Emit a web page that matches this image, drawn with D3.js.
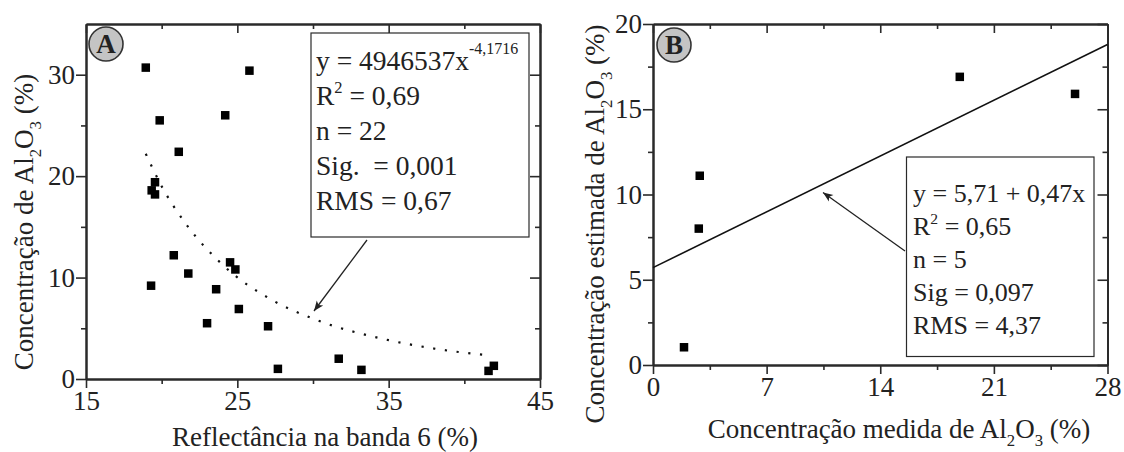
<!DOCTYPE html>
<html><head><meta charset="utf-8">
<script src="https://cdn.jsdelivr.net/npm/d3@7"></script>
<style>
html,body{margin:0;padding:0;background:#fff;}
svg text{font-family:"Liberation Serif","Times New Roman",serif;fill:#222;white-space:pre;}
</style></head>
<body><svg id="c" width="1124" height="452"></svg>
<script>
// ---- Panel A data ----
const aX = [18.95,25.8,19.87,24.2,21.13,19.34,19.56,19.56,20.8,21.76,19.3,24.52,24.87,23.6,25.1,23.0,27.03,27.68,31.7,33.2,41.6,41.95];
const aY = [30.7,30.4,25.5,26.0,22.4,18.6,19.4,18.2,12.2,10.4,9.2,11.5,10.8,8.85,6.9,5.5,5.2,1.0,2.0,0.9,0.8,1.3];
const fitAX = [18.95,20,21.6,24,27.4,30,35,38,41.6];
const fitAY = [22.2,19.0,15.3,11.3,7.7,5.95,3.83,3.0,2.33];
const aXTicks = [15,25,35,45];
const aYTicks = [0,10,20,30];
const aStats = ["y = 4946537x","R","n = 22","Sig.  = 0,001","RMS = 0,67"];
// ---- Panel B data ----
const bX = [2.88,2.82,1.91,18.9,26.0];
const bY = [11.1,8.0,1.04,16.9,15.9];
const fitBX = [0,28];
const fitBY = [5.71,18.8];
const bXTicks = [0,7,14,21,28];
const bYTicks = [0,5,10,15,20];
const bStats = ["y = 5,71 + 0,47x","R","n = 5","Sig = 0,097","RMS = 4,37"];

const svg = d3.select("#c");
const defs = svg.append("defs");
defs.append("marker").attr("id","arr").attr("viewBox","0 0 10 10").attr("refX",10).attr("refY",5)
  .attr("markerWidth",12).attr("markerHeight",10).attr("markerUnits","userSpaceOnUse").attr("orient","auto")
  .append("path").attr("d","M0,1 L10,5 L0,9 L2.5,5 Z").attr("fill","#222");

const ink = "#2a2a2a";

function panel(o){
  const g = svg.append("g");
  const x = d3.scaleLinear().domain(o.xd).range([o.l,o.r]);
  const y = d3.scaleLinear().domain(o.yd).range([o.b,o.t]);
  const fs = 27;
  function style(ax){
    ax.selectAll("path.domain").attr("stroke",ink).attr("stroke-width",2);
    ax.selectAll("line").attr("stroke",ink).attr("stroke-width",1.6);
    ax.selectAll("text").attr("font-size",fs).attr("fill","#222").attr("font-family","Liberation Serif");
  }
  // bottom
  const bmin = g.append("g").attr("transform",`translate(0,${o.b})`).call(d3.axisBottom(x).tickValues(o.xMinor).tickSize(5).tickFormat("").tickSizeOuter(0)); style(bmin);
  const bmaj = g.append("g").attr("transform",`translate(0,${o.b})`).call(d3.axisBottom(x).tickValues(o.xTicks).tickSize(9).tickPadding(3).tickSizeOuter(0)); style(bmaj);
  // top
  const tmin = g.append("g").attr("transform",`translate(0,${o.t})`).call(d3.axisTop(x).tickValues(o.xMinor).tickSize(-5).tickFormat("").tickSizeOuter(0)); style(tmin);
  const tmaj = g.append("g").attr("transform",`translate(0,${o.t})`).call(d3.axisTop(x).tickValues(o.xTicks).tickSize(-9).tickFormat("").tickSizeOuter(0)); style(tmaj);
  // left
  const lmin = g.append("g").attr("transform",`translate(${o.l},0)`).call(d3.axisLeft(y).tickValues(o.yMinor).tickSize(5).tickFormat("").tickSizeOuter(0)); style(lmin);
  const lmaj = g.append("g").attr("transform",`translate(${o.l},0)`).call(d3.axisLeft(y).tickValues(o.yTicks).tickSize(10).tickPadding(1).tickSizeOuter(0)); style(lmaj);
  // right
  const rmin = g.append("g").attr("transform",`translate(${o.r},0)`).call(d3.axisRight(y).tickValues(o.yMinor).tickSize(-5).tickFormat("").tickSizeOuter(0)); style(rmin);
  const rmaj = g.append("g").attr("transform",`translate(${o.r},0)`).call(d3.axisRight(y).tickValues(o.yTicks).tickSize(-10).tickFormat("").tickSizeOuter(0)); style(rmaj);

  // fit line
  const line = d3.line().x(d=>x(d[0])).y(d=>y(d[1])).curve(d3.curveMonotoneX);
  const fp = g.append("path").datum(o.fx.map((v,i)=>[v,o.fy[i]])).attr("d",line).attr("fill","none").attr("stroke","#111");
  if(o.dotted){ fp.attr("stroke-width",2.2).attr("stroke-dasharray","2.2 9.6"); }
  else { fp.attr("stroke-width",1.6); }

  // points
  const s = 8.5;
  g.selectAll("rect.pt").data(o.px.map((v,i)=>[v,o.py[i]])).enter().append("rect")
    .attr("x",d=>x(d[0])-s/2).attr("y",d=>y(d[1])-s/2).attr("width",s).attr("height",s).attr("fill","#000");

  // stats box
  g.append("rect").attr("x",o.box[0]).attr("y",o.box[1]).attr("width",o.box[2]-o.box[0]).attr("height",o.box[3]-o.box[1])
    .attr("fill","#fff").attr("stroke",ink).attr("stroke-width",1.2);
  o.stats.forEach((t,i)=>{
    const tx = g.append("text").attr("x",o.tx).attr("y",o.ty+i*o.tdy).attr("font-size",o.tfs).attr("xml:space","preserve");
    if(i===1){
      tx.append("tspan").text("R");
      tx.append("tspan").attr("dy",-o.tfs*0.42).attr("font-size",o.tfs*0.6).text("2");
      tx.append("tspan").attr("dy",o.tfs*0.42).text(" = "+o.r2);
    } else if(i===0 && o.sup){
      tx.append("tspan").text(t);
      tx.append("tspan").attr("dy",-o.tfs*0.55).attr("font-size",o.tfs*0.58).text(o.sup);
    } else tx.text(t);
  });
  // arrow
  g.append("line").attr("x1",o.arr[0]).attr("y1",o.arr[1]).attr("x2",o.arr[2]).attr("y2",o.arr[3])
    .attr("stroke","#222").attr("stroke-width",1.3).attr("marker-end","url(#arr)");

  // badge
  g.append("circle").attr("cx",o.badge[0]).attr("cy",o.badge[1]).attr("r",17).attr("fill","#c4c4c4").attr("stroke","#333").attr("stroke-width",1.6);
  g.append("text").attr("x",o.badge[0]).attr("y",o.badge[1]+9).attr("text-anchor","middle").attr("font-size",27).attr("font-weight","bold").attr("fill","#111").text(o.letter);

  // axis titles
  const xt = g.append("text").attr("x",o.xtx).attr("y",o.xty).attr("text-anchor","middle").attr("font-size",fs);
  o.xtitle(xt);
  const yt = g.append("text").attr("transform",`translate(${o.ytx},${o.yty}) rotate(-90)`).attr("text-anchor","middle").attr("font-size",fs);
  o.ytitle(yt);
}

function al2o3(t, pre, fs){
  t.append("tspan").text(pre+"Al");
  t.append("tspan").attr("dy",fs*0.28).attr("font-size",fs*0.62).text("2");
  t.append("tspan").attr("dy",-fs*0.28).text("O");
  t.append("tspan").attr("dy",fs*0.28).attr("font-size",fs*0.62).text("3");
  t.append("tspan").attr("dy",-fs*0.28).text(" (%)");
}

panel({
  xd:[15,45], yd:[0,35], l:86, r:540, t:24, b:379,
  xTicks:aXTicks, xMinor:[20,30,40], yTicks:aYTicks, yMinor:[5,15,25],
  px:aX, py:aY, fx:fitAX, fy:fitAY, dotted:true,
  box:[311,33,529,237], stats:aStats, sup:"-4,1716", r2:"0,69", tx:316, ty:69.5, tdy:35, tfs:27.5,
  arr:[367,240,314,311],
  badge:[106,44], letter:"A",
  xtx:325, xty:446, xtitle:t=>t.text("Reflectância na banda 6 (%)"),
  ytx:33, yty:222, ytitle:t=>al2o3(t,"Concentração de ",27)
});

panel({
  xd:[0,28], yd:[0,20], l:653, r:1107.5, t:24, b:365,
  xTicks:bXTicks, xMinor:[3.5,10.5,17.5,24.5], yTicks:bYTicks, yMinor:[2.5,7.5,12.5,17.5],
  px:bX, py:bY, fx:fitBX, fy:fitBY, dotted:false,
  box:[906.5,157,1094,356.5], stats:bStats, sup:null, r2:"0,65", tx:913, ty:201.5, tdy:33, tfs:26,
  arr:[905,251,823,192.5],
  badge:[674,45], letter:"B",
  xtx:899, xty:438, xtitle:t=>al2o3(t,"Concentração medida de ",27),
  ytx:604, yty:224, ytitle:t=>al2o3(t,"Concentração estimada de ",27)
});
</script></body></html>
